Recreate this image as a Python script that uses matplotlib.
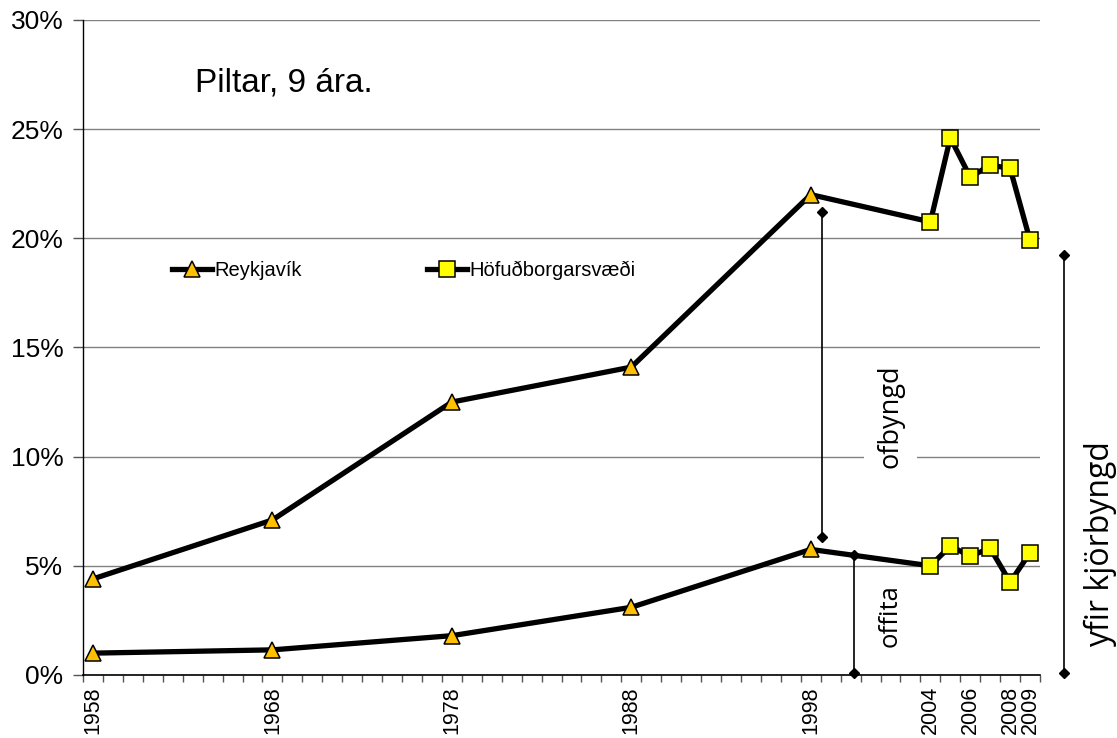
import matplotlib

matplotlib.use("Agg")
import matplotlib.pyplot as plt  # noqa: E402
import numpy as np  # noqa: E402
from matplotlib.ticker import FixedLocator, PercentFormatter  # noqa: E402

plt.rcParams["font.family"] = ["Liberation Sans", "DejaVu Sans"]

# category axis: one slot per column in the source sheet (mostly unlabelled)
CATEGORIES = (
    ["1958"] + [""] * 8 + ["1968"] + [""] * 8 + ["1978"] + [""] * 8
    + ["1988"] + [""] * 8 + ["1998"] + [""] * 5
    + ["2004", "2005", "2006", "2007", "2008", "2009"]
)
SHOWN_LABELS = ["1958", "1968", "1978", "1988", "1998", "2004", "2006", "2008", "2009"]

RVK_YEARS = ["1958", "1968", "1978", "1988", "1998"]
RVK_OVER = [4.4, 7.1, 12.5, 14.1, 22.0]     # yfir kjörþyngd, %
RVK_OBESE = [1.0, 1.15, 1.8, 3.1, 5.75]     # offita, %

HOF_YEARS = ["2004", "2005", "2006", "2007", "2008", "2009"]
HOF_OVER = [20.75, 24.6, 22.8, 23.35, 23.2, 19.9]
HOF_OBESE = [5.0, 5.9, 5.45, 5.8, 4.25, 5.6]

LINE_KW = dict(color="black", linewidth=3.8, zorder=3)
TRI_KW = dict(marker="^", markersize=11.5, markerfacecolor="#FFC000",
              markeredgecolor="black", markeredgewidth=1.1)
SQ_KW = dict(marker="s", markersize=12, markerfacecolor="#FFFF00",
             markeredgecolor="black", markeredgewidth=1.1)


def pos(labels):
    return [CATEGORIES.index(lbl) for lbl in labels]


fig = plt.figure(figsize=(11.17, 7.38), dpi=100)
ax = fig.add_axes([0.0743, 0.0854, 0.8568, 0.8876])

rx = pos(RVK_YEARS)
hx = pos(HOF_YEARS)

for rvk_vals, hof_vals, lbl in ((RVK_OVER, HOF_OVER, True), (RVK_OBESE, HOF_OBESE, False)):
    # Höfuðborgarsvæði line starts from the last Reykjavík point (no marker there)
    ax.plot([rx[-1]] + hx, [rvk_vals[-1]] + hof_vals,
            markevery=list(range(1, len(hx) + 1)), **LINE_KW, **SQ_KW,
            label="Höfuðborgarsvæði" if lbl else None)
    ax.plot(rx, rvk_vals, **LINE_KW, **TRI_KW, label="Reykjavík" if lbl else None)

# axes styling
ax.set_xlim(-0.5, len(CATEGORIES) - 0.5)
ax.set_ylim(0, 30)
ax.yaxis.set_major_locator(FixedLocator(np.arange(0, 31, 5)))
ax.yaxis.set_major_formatter(PercentFormatter(decimals=0))
ax.grid(axis="y", color="#808080", linewidth=1.0, zorder=0)
ax.set_axisbelow(True)
for s in ("top", "right"):
    ax.spines[s].set_visible(False)
ax.spines["left"].set_linewidth(1.0)
ax.spines["bottom"].set_linewidth(1.2)
ax.tick_params(axis="y", length=7, width=1.0, pad=7, labelsize=19, color="#555555")

ax.set_xticks(pos(SHOWN_LABELS))
ax.set_xticklabels(SHOWN_LABELS, rotation=90, fontsize=15.5)
ax.set_xticks(np.arange(-0.5, len(CATEGORIES), 1), minor=True)
ax.tick_params(axis="x", which="major", length=0, pad=8)
ax.tick_params(axis="x", which="minor", length=5, width=1.0, color="#555555")

# legend
handles, labels = ax.get_legend_handles_labels()
order = [labels.index("Reykjavík"), labels.index("Höfuðborgarsvæði")]
ax.legend([handles[i] for i in order], [labels[i] for i in order],
          loc="center left", bbox_to_anchor=(0.093, 0.618), ncol=2,
          frameon=False, fontsize=14.5, handlelength=2.0, handletextpad=0.1,
          columnspacing=6.2, borderpad=0, borderaxespad=0)

ax.text(0.117, 0.904, "Piltar, 9 ára.", transform=ax.transAxes,
        fontsize=24, ha="left", va="center")

# annotation brackets
ann_kw = dict(color="black", linewidth=1.2, marker="D", markersize=5.5, zorder=4)
ax.plot([36.55, 36.55], [21.2, 6.3], **ann_kw)
ax.plot([38.17, 38.17], [5.48, 0.1], **ann_kw, clip_on=False)
ax.plot([48.7, 48.7], [19.25, 0.1], **ann_kw, clip_on=False)

txt_font = ["Open Sans", "DejaVu Sans"]
ax.text(40.0, 11.86, "ofbyngd", rotation=90, ha="center", va="center",
        fontsize=19.5, family=txt_font, zorder=5,
        bbox=dict(boxstyle="square,pad=0.45", facecolor="white", edgecolor="none"))
ax.text(40.0, 2.7, "offita", rotation=90, ha="center", va="center",
        fontsize=18.5, family=txt_font, zorder=5)
ax.text(50.55, 6.0, "yfir kjörbyngd", rotation=90, ha="center", va="center",
        fontsize=23, family=txt_font, clip_on=False)

fig.savefig("out.png", dpi=100, facecolor="white")
